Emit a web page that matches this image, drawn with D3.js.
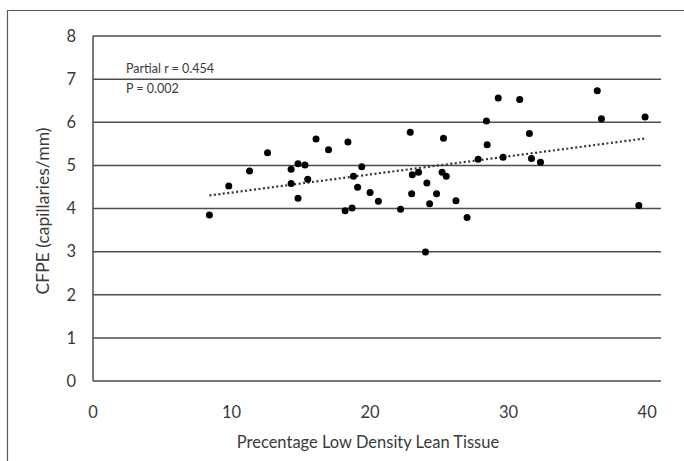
<!DOCTYPE html>
<html>
<head>
<meta charset="utf-8">
<script src="https://cdn.jsdelivr.net/npm/d3@7"></script>
<style>
  body { margin: 0; background: #fff; }
  text { font-family: Lato, "Open Sans", sans-serif; fill: #3a3a3a; }
</style>
</head>
<body>
<script>
// percentage low density lean tissue
var lowDensity = [8.4, 9.8, 11.3, 12.6, 14.3, 14.3, 14.8, 15.3, 15.5, 14.8,
  16.1, 17.0, 18.4, 19.4, 18.8, 19.1, 20.0, 20.6, 18.2, 18.7,
  22.9, 25.3, 22.2, 23.05, 23.5, 23.0, 24.1, 24.3, 24.8, 25.2,
  25.5, 26.2, 27.0, 24.0, 27.8, 28.4, 28.45, 29.6, 31.5, 31.65,
  32.3, 39.4, 29.25, 30.8, 36.4, 36.7, 39.85];
// CFPE (capillaries/mm)
var cfpe = [3.85, 4.52, 4.87, 5.29, 4.91, 4.58, 5.04, 5.01, 4.68, 4.24,
  5.61, 5.36, 5.54, 4.97, 4.75, 4.49, 4.37, 4.17, 3.95, 4.01,
  5.77, 5.63, 3.98, 4.78, 4.84, 4.34, 4.59, 4.11, 4.34, 4.84,
  4.75, 4.18, 3.79, 2.99, 5.14, 6.03, 5.48, 5.19, 5.74, 5.16,
  5.07, 4.07, 6.56, 6.53, 6.73, 6.08, 6.12];
var xTicks = [0, 10, 20, 30, 40];
var yTicks = [0, 1, 2, 3, 4, 5, 6, 7, 8];
var notes = ['Partial r = 0.454', 'P = 0.002'];

var w = 684, h = 461;
var svg = d3.select('body').append('svg')
  .attr('width', w)
  .attr('height', h);

// outer frame (only top and left edges visible)
svg.append('path')
  .attr('d', 'M7.5,' + h + 'V10.5H' + w)
  .attr('fill', 'none')
  .attr('stroke', '#595959')
  .attr('stroke-width', 1.2);

var x = d3.scaleLinear().domain([0, 41]).range([93, 661]);
var y = d3.scaleLinear().domain([0, 8]).range([381, 36]);

var g = svg.append('g');

// horizontal gridlines
g.selectAll('line.grid')
  .data(yTicks)
  .enter().append('line')
  .attr('class', 'grid')
  .attr('x1', x(0)).attr('x2', x(41))
  .attr('y1', function (d) { return y(d); })
  .attr('y2', function (d) { return y(d); })
  .attr('stroke', '#4d4d4d')
  .attr('stroke-width', 1.5);

// y axis line
g.append('line')
  .attr('x1', x(0)).attr('x2', x(0))
  .attr('y1', y(0)).attr('y2', y(8))
  .attr('stroke', '#4d4d4d')
  .attr('stroke-width', 1.5);

// y tick labels
g.selectAll('text.ytick')
  .data(yTicks)
  .enter().append('text')
  .attr('class', 'ytick')
  .attr('x', 76)
  .attr('y', function (d) { return y(d); })
  .attr('dy', '0.35em')
  .attr('text-anchor', 'end')
  .style('font-size', '16.5px')
  .text(function (d) { return d; });

// x tick labels
g.selectAll('text.xtick')
  .data(xTicks)
  .enter().append('text')
  .attr('class', 'xtick')
  .attr('x', function (d) { return x(d); })
  .attr('y', 418)
  .attr('text-anchor', 'middle')
  .style('font-size', '16.5px')
  .text(function (d) { return d; });

// axis titles
svg.append('text')
  .attr('x', 368)
  .attr('y', 448)
  .attr('text-anchor', 'middle')
  .style('font-size', '16.5px')
  .text('Precentage Low Density Lean Tissue');

svg.append('text')
  .attr('transform', 'translate(49,211) rotate(-90)')
  .attr('text-anchor', 'middle')
  .style('font-size', '17.5px')
  .text('CFPE (capillaries/mm)');

// linear trendline (least squares)
var pts = lowDensity.map(function (d, i) { return [d, cfpe[i]]; });
var mx = d3.mean(lowDensity), my = d3.mean(cfpe);
var sxy = d3.sum(pts, function (p) { return (p[0] - mx) * (p[1] - my); });
var sxx = d3.sum(pts, function (p) { return (p[0] - mx) * (p[0] - mx); });
var slope = sxy / sxx, icpt = my - slope * mx;
var ext = d3.extent(lowDensity);

g.append('line')
  .attr('x1', x(ext[0])).attr('y1', y(icpt + slope * ext[0]))
  .attr('x2', x(ext[1])).attr('y2', y(icpt + slope * ext[1]))
  .attr('stroke', '#333')
  .attr('stroke-width', 2.2)
  .attr('stroke-dasharray', '2,2.5');

// points
g.selectAll('circle')
  .data(pts)
  .enter().append('circle')
  .attr('cx', function (d) { return x(d[0]); })
  .attr('cy', function (d) { return y(d[1]); })
  .attr('r', 3.5)
  .attr('fill', '#000');

// annotation
svg.selectAll('text.note')
  .data(notes)
  .enter().append('text')
  .attr('class', 'note')
  .attr('x', 126)
  .attr('y', function (d, i) { return 73 + i * 20; })
  .style('font-size', '12.5px')
  .text(function (d) { return d; });
</script>
</body>
</html>
